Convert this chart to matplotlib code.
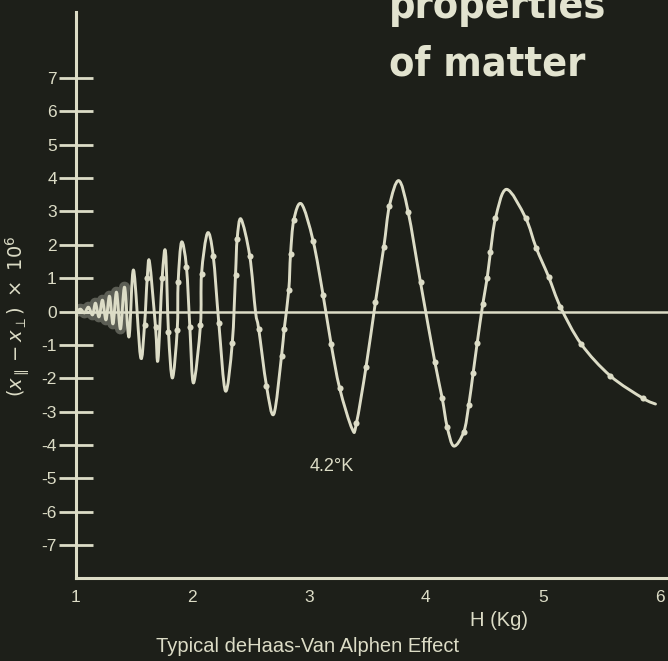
import matplotlib
matplotlib.use("Agg")
import matplotlib.pyplot as plt
from matplotlib.path import Path
from matplotlib.patches import PathPatch
from matplotlib import font_manager as fm
import numpy as np

# ---------------- data ----------------
# curve trace: H (kG) and (x_par - x_perp) * 10^6
curve_h = [1.009, 1.043, 1.077, 1.111, 1.146, 1.171, 1.201, 1.231, 1.261, 1.291,
           1.321, 1.351, 1.385, 1.420, 1.458, 1.497, 1.557, 1.591, 1.614, 1.634,
           1.685, 1.706, 1.742, 1.771, 1.796, 1.830, 1.871, 1.879, 1.908, 1.950,
           1.979, 2.010, 2.070, 2.079, 2.130, 2.179, 2.227, 2.284, 2.342, 2.370,
           2.384, 2.417, 2.492, 2.541, 2.569, 2.635, 2.698, 2.764, 2.787, 2.826,
           2.841, 2.869, 2.935, 3.035, 3.120, 3.189, 3.262, 3.369, 3.405, 3.488,
           3.568, 3.640, 3.688, 3.768, 3.848, 3.954, 4.076, 4.140, 4.182, 4.239,
           4.325, 4.367, 4.405, 4.439, 4.487, 4.525, 4.553, 4.596, 4.690, 4.853,
           4.944, 5.051, 5.152, 5.329, 5.580, 5.860, 5.966]
curve_v = [0.00, 0.07, -0.04, 0.13, -0.10, 0.25, -0.16, 0.34, -0.25, 0.46,
           -0.37, 0.58, -0.52, 0.73, -0.76, 1.24, -1.36, -0.40, 1.00, 1.48,
           -0.46, -1.45, 1.00, 1.78, -0.61, -1.99, -0.55, 0.89, 2.08, 1.33,
           -0.46, -2.14, -0.40, 1.12, 2.35, 1.67, -0.34, -2.38, -0.95, 1.09,
           2.17, 2.77, 1.66, 0.00, -0.53, -2.22, -3.07, -1.33, -0.52, 0.64,
           1.71, 2.74, 3.22, 2.11, 0.49, -0.98, -2.30, -3.52, -3.35, -1.65,
           0.28, 1.94, 3.17, 3.92, 2.99, 0.87, -1.50, -2.60, -3.45, -4.03,
           -3.60, -2.80, -1.83, -0.95, 0.22, 1.01, 1.79, 2.79, 3.66, 2.81,
           1.91, 1.04, 0.14, -0.97, -1.93, -2.60, -2.77]

# measured points (dots on the curve)
dot_h = [1.591, 1.614, 1.685, 1.742, 1.796, 1.871, 1.879, 1.950, 1.979, 2.070,
         2.079, 2.179, 2.227, 2.342, 2.370, 2.384, 2.492, 2.569, 2.635, 2.764,
         2.787, 2.826, 2.841, 2.869, 3.035, 3.120, 3.189, 3.262, 3.405, 3.488,
         3.568, 3.640, 3.688, 3.848, 3.954, 4.076, 4.140, 4.182, 4.325, 4.367,
         4.405, 4.439, 4.487, 4.525, 4.553, 4.596, 4.853, 4.944, 5.051, 5.152,
         5.329, 5.580, 5.860]
dot_v = [-0.40, 1.00, -0.46, 1.00, -0.61, -0.55, 0.89, 1.33, -0.46, -0.40,
         1.12, 1.67, -0.34, -0.95, 1.09, 2.17, 1.66, -0.53, -2.22, -1.33,
         -0.52, 0.64, 1.71, 2.74, 2.11, 0.49, -0.98, -2.30, -3.35, -1.65,
         0.28, 1.94, 3.17, 2.99, 0.87, -1.50, -2.60, -3.45, -3.60, -2.80,
         -1.83, -0.95, 0.22, 1.01, 1.79, 2.79, 2.81, 1.91, 1.04, 0.14,
         -0.97, -1.93, -2.60]

y_ticks = [-7, -6, -5, -4, -3, -2, -1, 0, 1, 2, 3, 4, 5, 6, 7]
x_ticks = [1, 2, 3, 4, 5, 6]

# ---------------- style ----------------
BG = "#1d1f19"
FG = "#dcdcc6"
TITLE_FG = "#e2e3cf"
TICKFONT = ["Liberation Sans", "DejaVu Sans"]


def heading_font():
    """Prefer an installed condensed bold face; else the narrowest bold sans."""
    ranked = []
    for f in fm.fontManager.ttflist:
        fn = f.fname.lower().replace("-", "").replace("_", "")
        if "italic" in fn or "oblique" in fn:
            continue
        if "bold" not in fn or "semibold" in fn or "extrabold" in fn:
            continue
        if "semicond" in fn:
            score = 3
        elif "extracond" in fn:
            score = 2
        elif "cond" in fn:
            score = 0
        elif "narrow" in fn:
            score = 1
        else:
            continue
        ranked.append((score, f.fname))
    if ranked:
        ranked.sort()
        return fm.FontProperties(fname=ranked[0][1]), 196.0
    names = {f.name for f in fm.fontManager.ttflist}
    for fam in ("Roboto", "Liberation Sans", "DejaVu Sans"):
        if fam in names:
            return fm.FontProperties(family=fam, weight="bold"), 218.0
    return fm.FontProperties(weight="bold"), 218.0


fig = plt.figure(figsize=(6.68, 6.61), dpi=100, facecolor=BG)
ax = fig.add_axes([75.5 / 668, 1 - 578 / 661, (668 - 75.5) / 668, (578 - 12) / 661])
ax.set_facecolor(BG)
ax.set_xlim(1.0, 6.073)
ax.set_ylim(-7.98, 8.97)

for s in ("top", "right"):
    ax.spines[s].set_visible(False)
for s in ("left", "bottom"):
    ax.spines[s].set_color(FG)
    ax.spines[s].set_linewidth(2.2)

ax.set_yticks(y_ticks)
ax.set_yticklabels([str(v) for v in y_ticks], fontfamily=TICKFONT)
ax.tick_params(axis="y", direction="inout", length=25, width=2, color=FG,
               labelcolor=FG, labelsize=12.5, pad=1)
ax.set_xticks(x_ticks)
ax.set_xticklabels([str(v) for v in x_ticks], fontfamily=TICKFONT)
ax.tick_params(axis="x", length=0, labelcolor=FG, labelsize=12.5, pad=9)

# zero line
ax.axhline(0, color=FG, lw=1.8, zorder=2)


def smooth_path(x, y):
    P = np.column_stack([x, y])
    E = np.vstack([P[0], P, P[-1]])
    verts = [P[0]]
    codes = [Path.MOVETO]
    for i in range(len(P) - 1):
        p0, p1, p2, p3 = E[i], E[i + 1], E[i + 2], E[i + 3]
        verts += [p1 + (p2 - p0) / 6.0, p2 - (p3 - p1) / 6.0, p2]
        codes += [Path.CURVE4] * 3
    return Path(verts, codes)


# blurry glow near the origin
ax.plot(curve_h[:14], curve_v[:14], color="#f0f0e0", lw=8, alpha=0.30,
        solid_capstyle="round", zorder=2)

ax.add_patch(PathPatch(smooth_path(curve_h, curve_v), facecolor="none",
                       edgecolor=FG, lw=2.1, capstyle="round", joinstyle="round",
                       zorder=3))
ax.plot(dot_h, dot_v, "o", ms=4.4, color=FG, mec="none", zorder=4)

# annotations
ax.text(3.19, -4.65, "4.2°K", color=FG, fontsize=13, ha="center", va="center",
        fontfamily=TICKFONT)

fig.text(18 / 668, 1 - 316 / 661, r"$(x_{\parallel}-x_{\perp})\ \times\ 10^{6}$",
         rotation=90, color=FG, fontsize=14, ha="center", va="center")
fig.text(499 / 668, 1 - 621 / 661, "H (Kg)", color=FG, fontsize=14.5,
         ha="center", va="center", fontfamily=TICKFONT)
fig.text(308 / 668, 1 - 646 / 661, "Typical deHaas-Van Alphen Effect", color=FG,
         fontsize=14.5, ha="center", va="center", fontfamily=TICKFONT)

# heading, sized so that "of matter" spans about the width it has in the picture
fp, target_w = heading_font()
t1 = fig.text(389 / 668, 1 - 18 / 661, "properties", color=TITLE_FG,
              fontproperties=fp, ha="left", va="baseline")
t2 = fig.text(389 / 668, 1 - 75 / 661, "of matter", color=TITLE_FG,
              fontproperties=fp, ha="left", va="baseline")
t1.set_fontsize(40)
t2.set_fontsize(40)
renderer = fig.canvas.get_renderer()
w = t2.get_window_extent(renderer).width
size = 40 * target_w / w
t1.set_fontsize(size)
t2.set_fontsize(size)

fig.savefig("out.png", dpi=100, facecolor=BG)
